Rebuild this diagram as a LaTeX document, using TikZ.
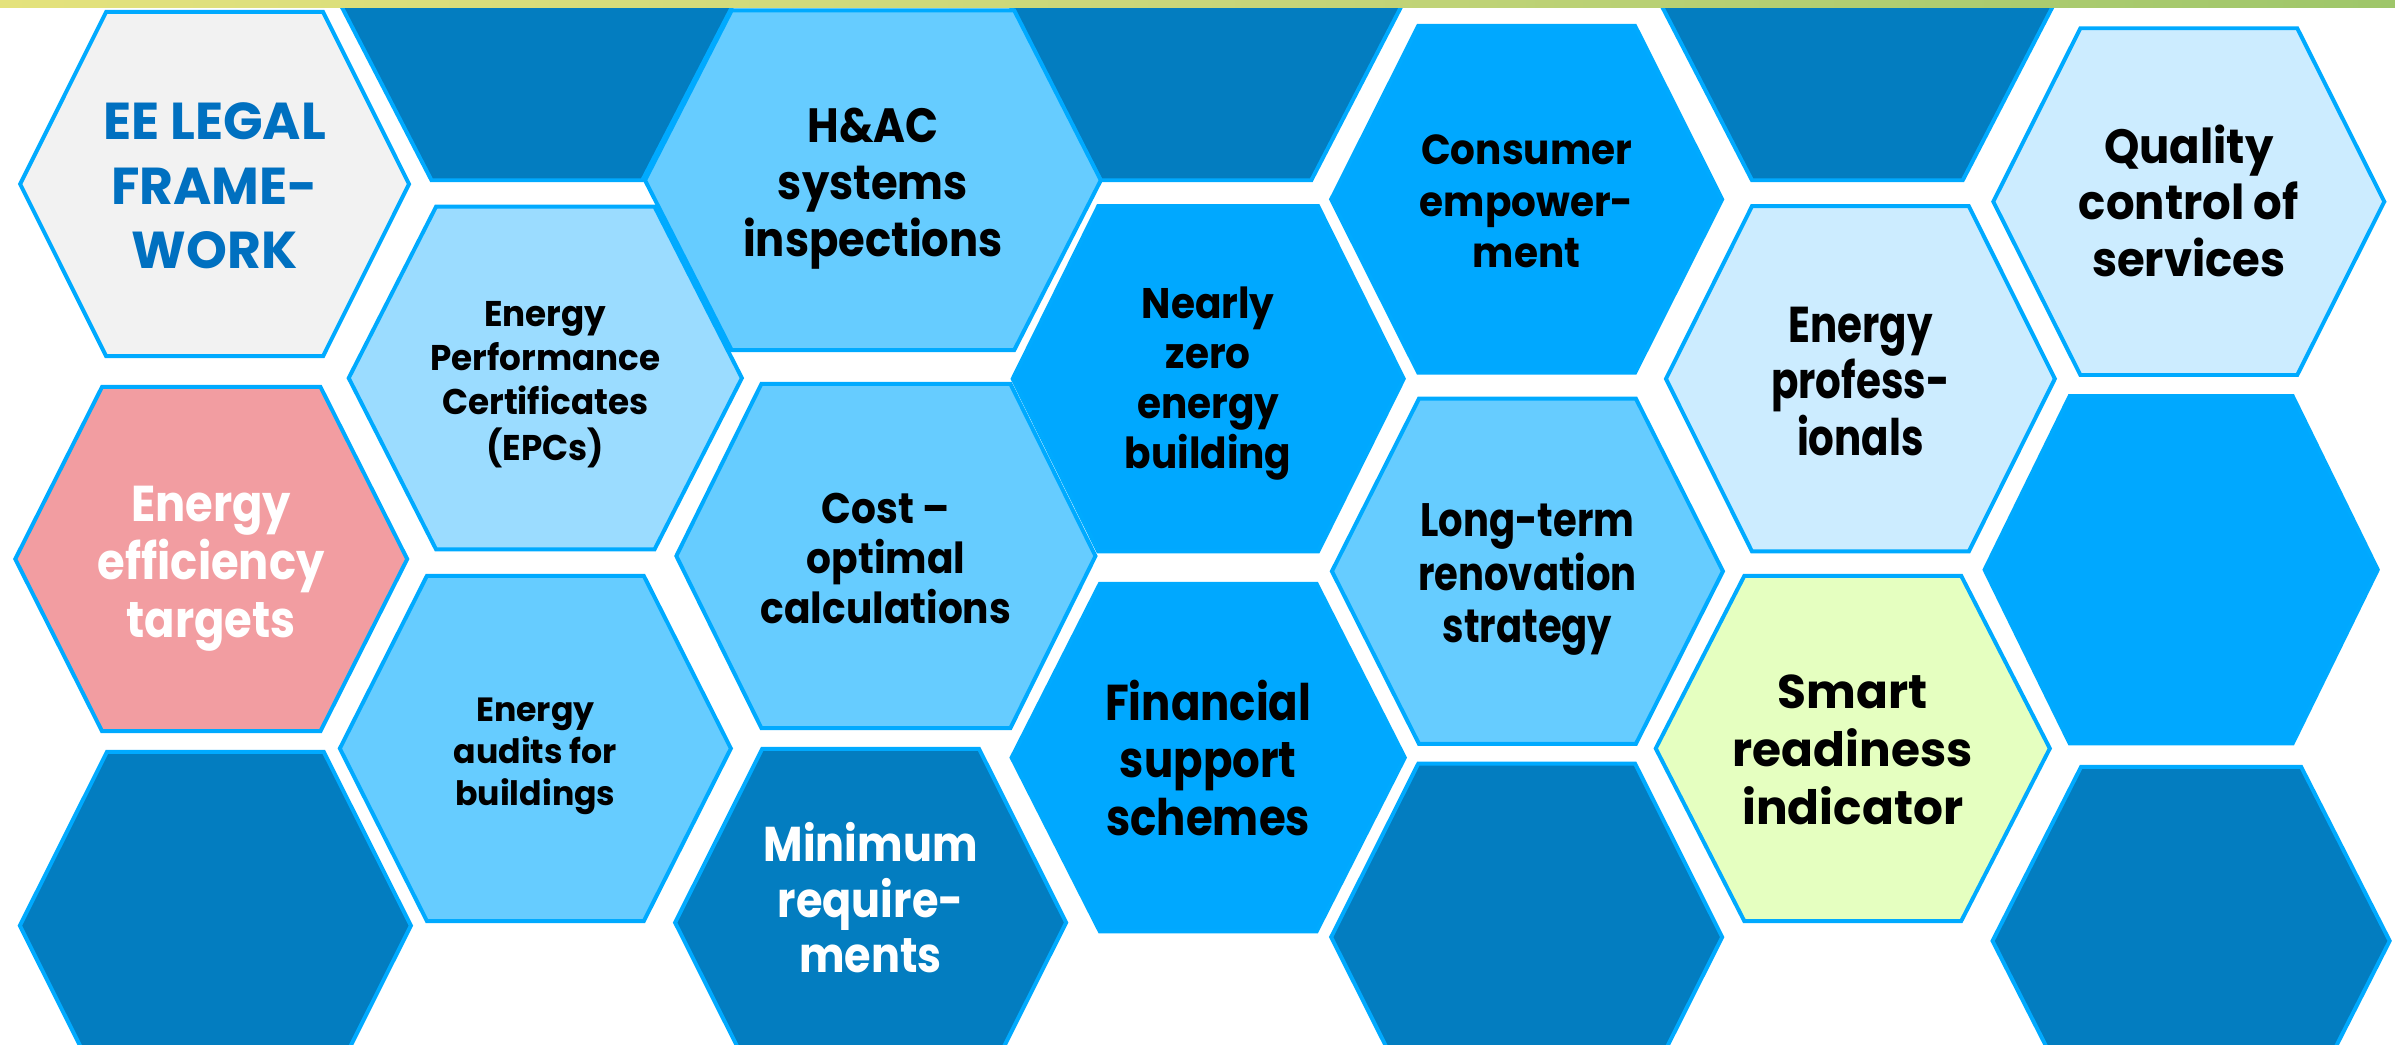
\documentclass[tikz,border=0pt]{standalone}
\usepackage{fontspec}
\setmainfont{Poppins}
\usepackage{graphicx}
\definecolor{darkhex}{RGB}{3,125,192}
\definecolor{hexedge}{RGB}{0,170,255}
\definecolor{brighthex}{RGB}{0,168,255}
\definecolor{midhex}{RGB}{102,204,255}
\definecolor{epchex}{RGB}{155,220,255}
\definecolor{palehex}{RGB}{204,236,255}
\definecolor{eehex}{RGB}{242,242,242}
\definecolor{pinkhex}{RGB}{242,157,161}
\definecolor{greenhex}{RGB}{229,255,192}
\definecolor{eetext}{RGB}{0,112,192}
\definecolor{stripL}{RGB}{228,226,124}
\definecolor{stripM}{RGB}{200,214,122}
\definecolor{stripR}{RGB}{158,198,106}
\newsavebox\hexbox
\newlength\hexref
% #1 target width of reference line, #2 reference line, #3 font size, #4 skip, #5 lines
\newcommand\hexfit[5]{%
  \begingroup\fontsize{#3}{#4}\selectfont\bfseries
  \settowidth\hexref{#2}%
  \sbox\hexbox{\begin{tabular}[t]{@{}c@{}}#5\end{tabular}}%
  \pgfmathsetmacro\hexfac{#1/\hexref}%
  \scalebox{\hexfac}[1]{\usebox\hexbox}%
  \endgroup}
% fill, cx, cy, W, T, H
\newcommand\hexshape[6]{%
  \path[hexline, fill=#1] (#2-#4,#3) -- (#2-#5,#3-#6) -- (#2+#5,#3-#6) -- (#2+#4,#3)
    -- (#2+#5,#3+#6) -- (#2-#5,#3+#6) -- cycle;}
\tikzset{
  hexline/.style={draw=hexedge, line width=2.6pt, line join=miter},
  hexlabel/.style={anchor=base, inner sep=0pt, text=black},
}
\begin{document}
\begin{tikzpicture}[x=1pt, y=-1pt]
\clip (0,0) rectangle (1568,683.5);
\fill[white] (0,0) rectangle (1568,683.5);
% dark tops
\hexshape{darkhex}{351.5}{5}{127.5}{69}{113}
\hexshape{darkhex}{789.5}{5}{127.5}{69}{113}
\hexshape{darkhex}{1216}{5}{127.5}{69}{113}
% row 1
\hexshape{eehex}{140.5}{120.5}{127.3}{71}{112.7}
\hexshape{midhex}{571.5}{118}{149.2}{92.5}{111.2}
\hexshape{brighthex}{999.5}{130.5}{128}{71}{113.5}
\hexshape{palehex}{1433}{132}{128}{71}{113.5}
% row 2
\hexshape{epchex}{357}{247.5}{128.7}{71.5}{112.2}
\hexshape{brighthex}{791}{248}{128}{72}{113}
\hexshape{palehex}{1218}{248}{127.3}{71}{113}
% row 3
\hexshape{pinkhex}{138.3}{366}{128.3}{71.5}{112.7}
\hexshape{midhex}{580}{364}{137.2}{81.5}{112.7}
\hexshape{midhex}{1000}{374}{128}{71}{113}
\hexshape{brighthex}{1428}{373}{128.7}{73}{113.7}
% row 4
\hexshape{midhex}{350.5}{490}{128}{71}{113}
\hexshape{brighthex}{791}{496}{128.7}{71}{113.7}
\hexshape{greenhex}{1213}{490}{129}{71}{113}
% row 5
\hexshape{darkhex}{141}{606}{128}{71}{113.7}
\hexshape{darkhex}{570}{604}{128}{71}{113.7}
\hexshape{darkhex}{999.5}{613.5}{128}{71}{113.5}
\hexshape{darkhex}{1434.5}{616}{130}{72}{114}
% labels
\node[hexlabel, text=eetext] (ee) at (140.5,91.6) {\hexfit{146}{EE LEGAL}{34}{42}{EE LEGAL\\FRAME-\\WORK}};
\node[hexlabel] (hac) at (571.5,93) {\hexfit{170}{inspections}{31.5}{37.5}{H\&AC\\systems\\inspections}};
\node[hexlabel] (cons) at (999.5,108) {\hexfit{138}{Consumer}{27.5}{33.5}{Consumer\\empower-\\ment}};
\node[hexlabel] (qual) at (1433,106.8) {\hexfit{144}{control of}{31.5}{37}{Quality\\control of\\services}};
\node[hexlabel] (epc) at (357,214) {\hexfit{150.6}{Performance}{23.4}{28.8}{Energy\\Performance\\Certificates\\(EPCs)}};
\node[hexlabel] (nzeb) at (791,208.5) {\hexfit{109}{building}{28}{32.7}{Nearly\\zero\\energy\\building}};
\node[hexlabel] (prof) at (1218,223.9) {\hexfit{116.8}{profess-}{33}{37}{Energy\\profess-\\ionals}};
\node[hexlabel, text=white] (targ) at (138.3,341.6) {\hexfit{148.5}{efficiency}{33}{37.7}{Energy\\efficiency\\targets}};
\node[hexlabel] (cost) at (580,342.6) {\hexfit{164}{calculations}{28}{32.7}{Cost –\\optimal\\calculations}};
\node[hexlabel] (ltrs) at (1000,351.5) {\hexfit{143}{renovation}{30.7}{34.5}{Long-term\\renovation\\strategy}};
\node[hexlabel] (aud) at (350.5,472.5) {\hexfit{107}{audits for}{22}{27.5}{Energy\\audits for\\buildings}};
\node[hexlabel] (fin) at (791,471.6) {\hexfit{135}{Financial}{33}{37.6}{Financial\\support\\schemes}};
\node[hexlabel] (sri) at (1213,463.8) {\hexfit{157}{readiness}{31}{38}{Smart\\readiness\\indicator}};
\node[hexlabel, text=white] (minr) at (570,564) {\hexfit{140}{Minimum}{32}{36}{Minimum\\require-\\ments}};
% top strip
\shade[left color=stripL, right color=stripR, middle color=stripM] (0,0) rectangle (1568,4.8);
\end{tikzpicture}
\end{document}
